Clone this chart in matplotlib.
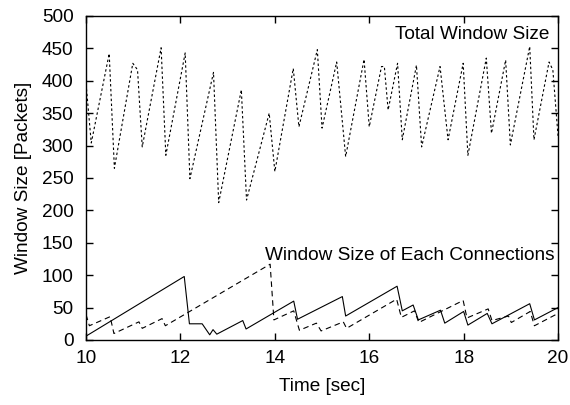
import numpy as np
import matplotlib
matplotlib.use("Agg")
import matplotlib.pyplot as plt

plt.rcParams['font.family'] = ['Liberation Sans', 'DejaVu Sans']

# total window size (sum of all connections)
total_t = [10.0, 10.11, 10.49, 10.60, 10.99, 11.09, 11.19, 11.59, 11.69, 12.10,
           12.20, 12.70, 12.81, 13.29, 13.40, 13.88, 14.00, 14.39, 14.51, 14.90,
           15.00, 15.31, 15.50, 15.89, 16.00, 16.26, 16.32, 16.40, 16.60, 16.70,
           17.00, 17.11, 17.50, 17.67, 17.99, 18.09, 18.48, 18.59, 18.89, 18.99,
           19.40, 19.49, 19.81, 19.89, 20.0]
total_w = [395, 304, 442, 265, 427, 417, 298, 451, 285, 443,
           249, 413, 212, 386, 216, 350, 260, 419, 329, 448,
           327, 429, 283, 433, 329, 422, 422, 355, 427, 309,
           424, 298, 422, 309, 427, 285, 435, 319, 432, 301,
           453, 309, 429, 417, 315]

# connection 1 (solid)
conn1_t = [10.0, 12.08, 12.19, 12.46, 12.62, 12.69, 12.77, 13.32, 13.39, 14.40,
           14.48, 15.43, 15.50, 16.59, 16.70, 16.93, 17.04, 17.51, 17.60, 18.00,
           18.09, 18.50, 18.60, 19.40, 19.50, 20.0]
conn1_w = [6, 98, 25, 25, 8, 16, 9, 30, 17, 60,
           32, 67, 37, 83, 45, 54, 31, 46, 26, 44,
           23, 41, 25, 56, 31, 50]

# connection 2 (dashed)
conn2_t = [10.0, 10.07, 10.51, 10.59, 11.12, 11.19, 11.61, 11.68, 13.90, 13.98,
           14.40, 14.52, 14.88, 14.98, 15.45, 15.52, 16.58, 16.68, 16.96, 17.05,
           17.99, 18.07, 18.52, 18.60, 18.95, 19.01, 19.41, 19.50, 20.0]
conn2_w = [39, 22, 36, 10, 28, 18, 33, 22, 117, 31,
           45, 15, 26, 14, 28, 18, 63, 35, 45, 27,
           61, 34, 48, 30, 37, 27, 44, 22, 41]

fs = 13.7

fig = plt.figure(figsize=(5.7, 4.05), dpi=100)
ax = fig.add_axes([0.151, 0.1605, 0.828, 0.8])

ax.plot(total_t, total_w, color='black', lw=0.8, dashes=(2.2, 2.2))
ax.plot(conn1_t, conn1_w, color='black', lw=0.8)
ax.plot(conn2_t, conn2_w, color='black', lw=0.8, dashes=(5, 3.5))

ax.text(19.82, 471, "Total Window Size", ha='right', va='center', fontsize=fs)
ax.text(13.79, 130, "Window Size of Each Connections", ha='left', va='center', fontsize=fs)

ax.set_xlim(10, 20)
ax.set_ylim(0, 500)
ax.set_xticks(np.arange(10, 21, 2))
ax.set_yticks(np.arange(0, 501, 50))
ax.tick_params(direction='in', top=True, right=True, length=5, width=1, labelsize=fs)
ax.tick_params(axis='y', pad=9)
ax.tick_params(axis='x', pad=7)
for s in ax.spines.values():
    s.set_linewidth(1)

ax.set_xlabel("Time [sec]", fontsize=fs, labelpad=8)
ax.set_ylabel("Window Size [Packets]", fontsize=fs, labelpad=7)

fig.savefig("out.png", dpi=100)
